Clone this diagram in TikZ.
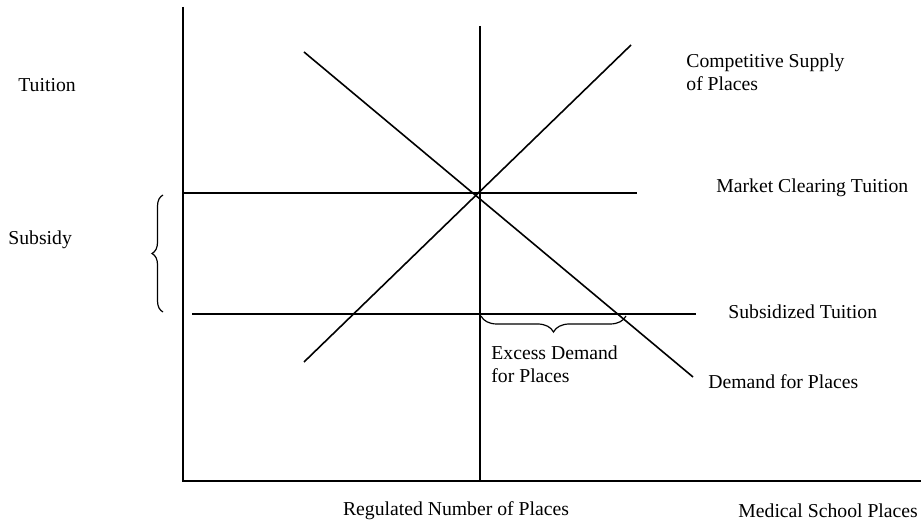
\documentclass[tikz,border=0pt]{standalone}
\usepackage{fontspec}
\setmainfont{Liberation Serif}
\usetikzlibrary{decorations.pathreplacing,positioning}
\newcommand{\lblfont}{\fontsize{9.85}{11.5}\selectfont}

\begin{document}
\begin{tikzpicture}[x=0.5pt,y=-0.5pt,
    curve/.style={line width=0.8pt,black},
    lbl/.style={inner sep=0pt,font=\lblfont,align=left,anchor=west},
    bracebox/.style={line width=0.6pt,decorate,decoration={brace,amplitude=#1}}]
  \useasboundingbox (0,0) rectangle (921,523);
  % axes
  \coordinate (origin) at (183,481);
  \coordinate (ytop) at (183,7);
  \coordinate (xend) at (921,481);
  \draw[curve] (ytop) -- (origin) -- (xend);
  % regulated number of places
  \coordinate (regtop) at (480,26);
  \coordinate (regbot) at (480,481);
  \draw[curve] (regtop) -- (regbot);
  % supply and demand
  \coordinate (supLo) at (304,362);
  \coordinate (supHi) at (631,45);
  \coordinate (demHi) at (304,52);
  \coordinate (demLo) at (693,377);
  \draw[curve] (supLo) -- (supHi);
  \draw[curve] (demHi) -- (demLo);
  % tuition levels
  \coordinate (mktL) at (183,193);
  \coordinate (mktR) at (637,193);
  \coordinate (subL) at (192,314);
  \coordinate (subR) at (696,314);
  \draw[curve] (mktL) -- (mktR);
  \draw[curve] (subL) -- (subR);
  % braces
  \coordinate (subsBot) at (163,312);
  \coordinate (subsTop) at (163,195);
  \draw[bracebox=5.5pt] (subsBot) -- (subsTop);
  \coordinate (excL) at (481,316);
  \coordinate (excR) at (626,316);
  \draw[bracebox=8pt] (excR) -- (excL);
  % labels
  \node[lbl] (tuition) at (18,85) {Tuition};
  \node[lbl] (subsidy) at (8,240) {Subsidy};
  \node[lbl] (supply) at (686,72) {Competitive Supply\\of Places};
  \node[lbl] (market) at (716,188) {Market Clearing Tuition};
  \node[lbl] (subsid) at (728,312) {Subsidized Tuition};
  \node[lbl] (demand) at (708,382) {Demand for Places};
  \node[lbl] (excess) at (491,364) {Excess Demand\\for Places};
  \node[lbl,anchor=center] (regulated) at (456,511) {Regulated Number of Places};
  \node[lbl] (places) at (738,511) {Medical School Places};
\end{tikzpicture}
\end{document}
